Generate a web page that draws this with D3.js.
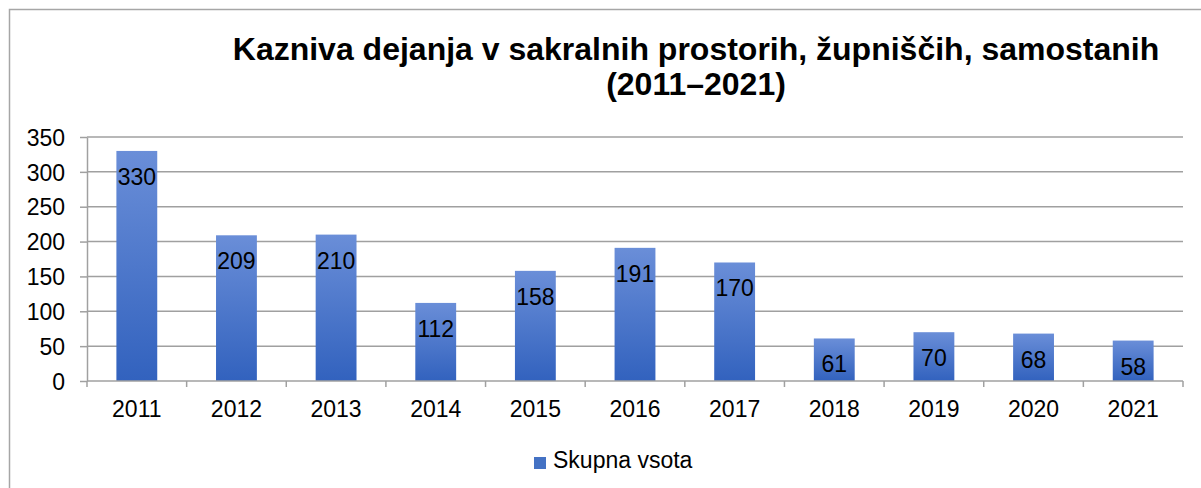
<!DOCTYPE html>
<html>
<head>
<meta charset="utf-8">
<script src="https://cdn.jsdelivr.net/npm/d3@7"></script>
<style>
  body { margin: 0; background: #fff; }
  svg { display: block; font-family: "Liberation Sans", Arial, sans-serif; }
</style>
</head>
<body>
<svg id="chart"></svg>
<script>
/* data */
const years = ['2011', '2012', '2013', '2014', '2015', '2016', '2017', '2018', '2019', '2020', '2021'];
const totals = [330, 209, 210, 112, 158, 191, 170, 61, 70, 68, 58];
const yTicks = [0, 50, 100, 150, 200, 250, 300, 350];
const seriesName = 'Skupna vsota';
const titleLines = ['Kazniva dejanja v sakralnih prostorih, župniščih, samostanih', '(2011–2021)'];

const width = 1201, height = 488;
const plot = { left: 87, right: 1183, top: 137, bottom: 381 };
const fontSize = 23;

const svg = d3.select('#chart').attr('width', width).attr('height', height);

// outer frame (runs off the right and bottom edge)
svg.append('rect')
  .attr('x', 9.5).attr('y', 9.5)
  .attr('width', 1220).attr('height', 500)
  .attr('fill', 'none').attr('stroke', '#a6a6a6').attr('stroke-width', 1.5);

// gradient for the bars
const grad = svg.append('defs').append('linearGradient')
  .attr('id', 'barFill').attr('x1', 0).attr('y1', 0).attr('x2', 0).attr('y2', 1);
grad.append('stop').attr('offset', '0%').attr('stop-color', '#6a8ed8');
grad.append('stop').attr('offset', '100%').attr('stop-color', '#3262be');

// title
svg.append('g').selectAll('text')
  .data(titleLines)
  .enter()
  .append('text')
  .attr('x', 696)
  .attr('y', (d, i) => 60 + i * 35)
  .attr('text-anchor', 'middle')
  .attr('font-size', 32)
  .attr('font-weight', 'bold')
  .attr('fill', '#000')
  .text(d => d);

/* scales */
const x = d3.scaleBand()
  .domain(years)
  .range([plot.left, plot.right])
  .paddingInner(0.59)
  .paddingOuter(0.295);

const y = d3.scaleLinear()
  .domain([0, 350])
  .range([plot.bottom, plot.top]);

/* y axis with gridlines */
const yAxis = svg.append('g')
  .attr('transform', `translate(${plot.left},0)`)
  .call(d3.axisLeft(y).tickValues(yTicks).tickSize(7).tickPadding(15).tickSizeOuter(0));
yAxis.select('.domain').attr('stroke', '#a0a0a0').attr('stroke-width', 1.5);
yAxis.selectAll('.tick line').attr('stroke', '#a0a0a0').attr('stroke-width', 1.5);
yAxis.selectAll('.tick text')
  .attr('font-size', fontSize).attr('font-family', '"Liberation Sans", Arial, sans-serif')
  .attr('fill', '#000').attr('dy', '0.36em');

svg.append('g').selectAll('line')
  .data(yTicks.filter(d => d > 0))
  .enter()
  .append('line')
  .attr('x1', plot.left).attr('x2', plot.right)
  .attr('y1', d => y(d)).attr('y2', d => y(d))
  .attr('stroke', '#a0a0a0').attr('stroke-width', 1.5);

/* bars */
svg.append('g').selectAll('rect')
  .data(totals)
  .enter()
  .append('rect')
  .attr('x', (d, i) => x(years[i]))
  .attr('y', d => y(d))
  .attr('width', x.bandwidth())
  .attr('height', d => y(0) - y(d))
  .attr('fill', 'url(#barFill)');

// value labels inside the top of each bar
svg.append('g').selectAll('text')
  .data(totals)
  .enter()
  .append('text')
  .attr('x', (d, i) => x(years[i]) + x.bandwidth() / 2)
  .attr('y', d => y(d) + 34)
  .attr('text-anchor', 'middle')
  .attr('font-size', fontSize)
  .attr('fill', '#000')
  .text(d => d);

/* x axis: ticks sit on the category boundaries */
const xAxis = svg.append('g').attr('transform', `translate(0,${plot.bottom})`);
xAxis.append('line')
  .attr('x1', plot.left).attr('x2', plot.right)
  .attr('stroke', '#a0a0a0').attr('stroke-width', 1.5);
xAxis.selectAll('line.tick')
  .data(years.concat(['end']))
  .enter()
  .append('line')
  .attr('class', 'tick')
  .attr('x1', (d, i) => plot.left + i * x.step())
  .attr('x2', (d, i) => plot.left + i * x.step())
  .attr('y1', 0).attr('y2', 6)
  .attr('stroke', '#a0a0a0').attr('stroke-width', 1.5);
xAxis.selectAll('text')
  .data(years)
  .enter()
  .append('text')
  .attr('x', d => x(d) + x.bandwidth() / 2)
  .attr('y', 36)
  .attr('text-anchor', 'middle')
  .attr('font-size', fontSize)
  .attr('fill', '#000')
  .text(d => d);

/* legend */
const legend = svg.append('g').attr('transform', 'translate(534,457)');
legend.append('rect')
  .attr('width', 12).attr('height', 12)
  .attr('fill', '#4472c4');
legend.append('text')
  .attr('x', 19).attr('y', 11)
  .attr('font-size', fontSize)
  .attr('fill', '#000')
  .text(seriesName);
</script>
</body>
</html>
